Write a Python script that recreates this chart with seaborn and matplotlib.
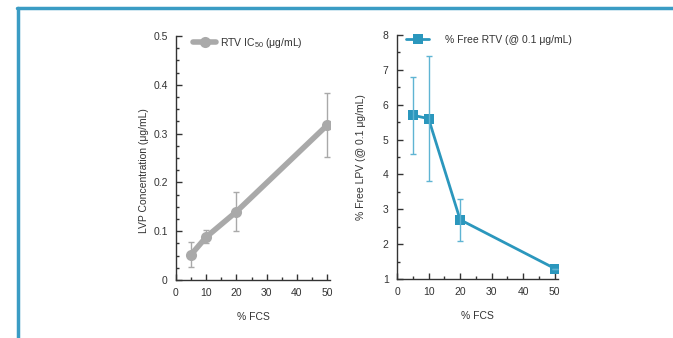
import matplotlib
matplotlib.use("Agg")
import matplotlib.pyplot as plt
import pandas as pd
import seaborn as sns
from matplotlib.lines import Line2D
from matplotlib.ticker import MultipleLocator

# --- data ---
fcs = [5, 10, 20, 50]
ic50 = [0.052, 0.088, 0.140, 0.317]
ic50_lo = [0.027, 0.075, 0.100, 0.252]
ic50_hi = [0.078, 0.102, 0.180, 0.383]

free_rtv = [5.7, 5.6, 2.7, 1.3]
free_lo = [4.6, 3.8, 2.1, 1.3]
free_hi = [6.8, 7.4, 3.3, 1.3]

GREY = "#a9a9a9"
BLUE = "#2b97bd"
LIGHT_BLUE = "#5fb4d3"
FRAME = "#3a9cc4"
INK = "#333333"

sns.set_style("white")
plt.rcParams["font.family"] = ["Liberation Sans", "DejaVu Sans"]
plt.rcParams["mathtext.fontset"] = "custom"
plt.rcParams["mathtext.rm"] = "Liberation Sans"
plt.rcParams["mathtext.it"] = "Liberation Sans"
plt.rcParams["text.color"] = INK
plt.rcParams["axes.labelcolor"] = INK
plt.rcParams["xtick.color"] = INK
plt.rcParams["ytick.color"] = INK

df = pd.DataFrame({"fcs": fcs, "ic50": ic50, "free": free_rtv})

fig = plt.figure(figsize=(6.73, 3.38), dpi=100)
ax1 = fig.add_axes([0.2615, 0.1716, 0.2289, 0.7219])
ax2 = fig.add_axes([0.5899, 0.1746, 0.2392, 0.7218])

# left panel
sns.lineplot(data=df, x="fcs", y="ic50", ax=ax1, color=GREY, lw=4,
             marker="o", markersize=8, markeredgewidth=0,
             label="RTV IC$_{50}$ (\u03bcg/mL)")
ax1.errorbar(fcs, ic50,
             yerr=[[m - l for m, l in zip(ic50, ic50_lo)],
                   [h - m for m, h in zip(ic50, ic50_hi)]],
             fmt="none", ecolor=GREY, elinewidth=1, capsize=2, capthick=1)
ax1.set_xlim(0, 51)
ax1.set_ylim(0, 0.5)
ax1.yaxis.set_minor_locator(MultipleLocator(0.025))
ax1.set_yticks([0, 0.1, 0.2, 0.3, 0.4, 0.5])
ax1.set_yticklabels(["0", "0.1", "0.2", "0.3", "0.4", "0.5"])
ax1.set_ylabel("LVP Concentration (\u03bcg/mL)", fontsize=7.5, labelpad=12)
ax1.yaxis.set_label_coords(-0.175, 0.45)

# right panel
sns.lineplot(data=df, x="fcs", y="free", ax=ax2, color=BLUE, lw=2,
             marker="s", markersize=7.5, markeredgewidth=0,
             label="% Free RTV (@ 0.1 \u03bcg/mL)")
ax2.errorbar(fcs, free_rtv,
             yerr=[[m - l for m, l in zip(free_rtv, free_lo)],
                   [h - m for m, h in zip(free_rtv, free_hi)]],
             fmt="none", ecolor=LIGHT_BLUE, elinewidth=1, capsize=2, capthick=1)
ax2.set_xlim(0, 51)
ax2.set_ylim(1, 8)
ax2.yaxis.set_major_locator(MultipleLocator(1))
ax2.yaxis.set_minor_locator(MultipleLocator(0.5))
ax2.set_ylabel("% Free LPV (@ 0.1 \u03bcg/mL)", fontsize=7.5, labelpad=12)

for ax in (ax1, ax2):
    ax.set_xlabel("% FCS", fontsize=7.5, labelpad=10)
    ax.xaxis.set_major_locator(MultipleLocator(10))
    ax.xaxis.set_minor_locator(MultipleLocator(5))
    ax.tick_params(which="major", direction="in", length=4, width=1,
                   labelsize=7.5, pad=6)
    ax.tick_params(which="minor", direction="in", length=2, width=1)
    ax.tick_params(axis="x", which="both", bottom=True)
    ax.tick_params(axis="y", which="both", left=True)
    for side in ("top", "right"):
        ax.spines[side].set_visible(False)
    for side in ("left", "bottom"):
        ax.spines[side].set_color(INK)
        ax.spines[side].set_linewidth(1)

ax1.legend(loc="upper left", bbox_to_anchor=(0.05, 1.04), frameon=False,
           fontsize=7.5, handlelength=2.2, handletextpad=0.4)
ax2.legend(loc="upper left", bbox_to_anchor=(0.0, 1.04), frameon=False,
           fontsize=7.5, handlelength=2.2, handletextpad=1.5)

# blue frame around the panel
fig.add_artist(Line2D([0.027, 0.027], [0.0, 0.977], color=FRAME, lw=2.5,
                      transform=fig.transFigure))
fig.add_artist(Line2D([0.025, 1.0], [0.977, 0.977], color=FRAME, lw=2.5,
                      transform=fig.transFigure))

fig.savefig("out.png", dpi=100)
